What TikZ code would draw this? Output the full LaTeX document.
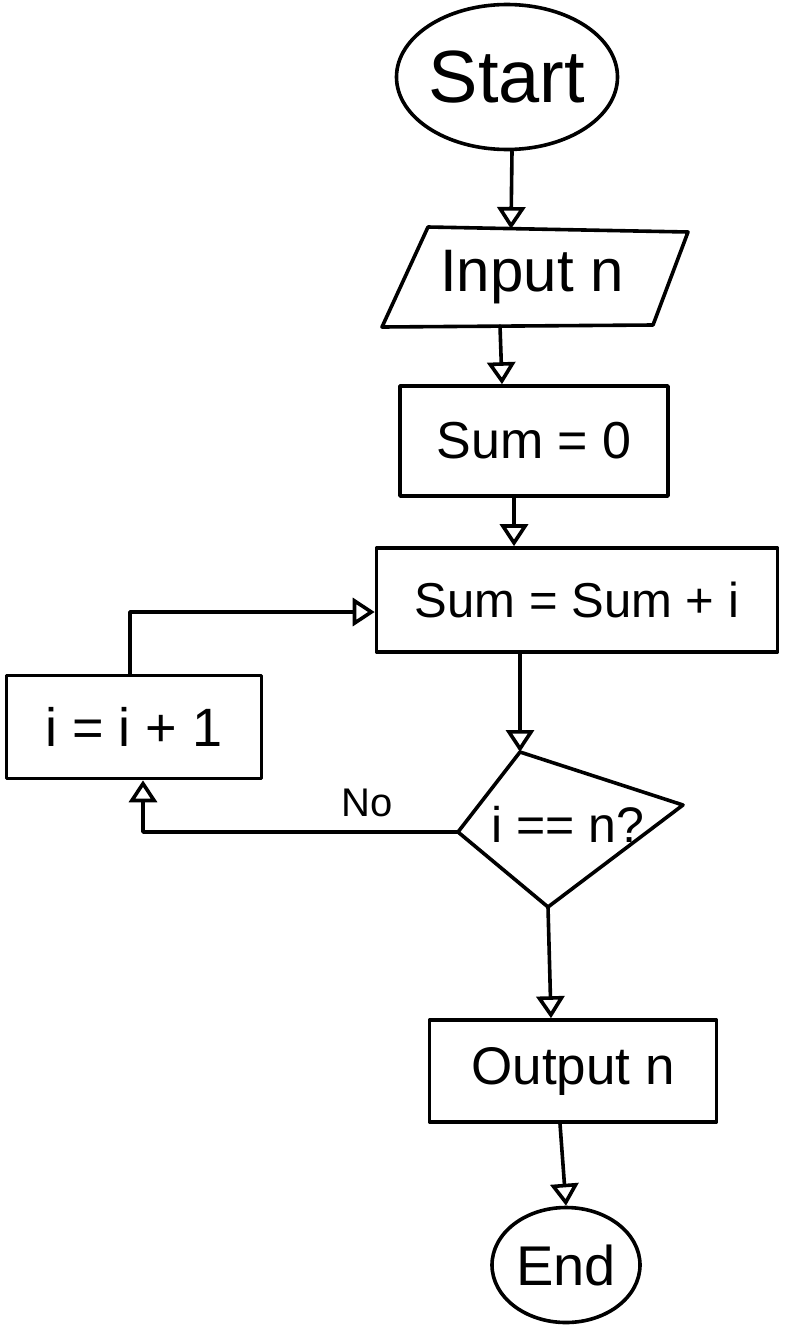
\documentclass[tikz,border=0pt]{standalone}
\usepackage{fontspec}
\setmainfont{Liberation Sans}
\usetikzlibrary{shapes.geometric,arrows.meta}

\newcommand{\fsz}[1]{\fontsize{#1}{#1}\selectfont}

\tikzset{
  ink/.style={line width=3.6pt, line cap=round, line join=round},
  flow/.style={ink, -{Triangle[open,length=22pt,width=28pt]}},
  terminal/.style={ink, draw, ellipse, inner sep=0pt},
  procbox/.style={ink, draw, rectangle, inner sep=0pt},
  label/.style={inner sep=0pt, anchor=center},
}

\begin{document}
\begin{tikzpicture}[x=1pt, y=-1pt]
  \useasboundingbox (0,0) rectangle (787,1333);
  \fill[white] (0,0) rectangle (787,1333);

  % terminals
  \node[terminal, minimum width=218pt, minimum height=145pt] (start) at (507,77) {\fsz{74}Start};
  \node[terminal, minimum width=148pt, minimum height=115pt] (end) at (566,1265) {\fsz{56}End};

  % input parallelogram
  \coordinate (inTL) at (428,227);
  \coordinate (inTR) at (688,232);
  \coordinate (inBR) at (653,325);
  \coordinate (inBL) at (382,327);
  \draw[ink] (inTL) -- (inTR) -- (inBR) -- (inBL) -- cycle;
  \node[label] (input) at (532,277) {\fsz{60}Input n};
  \coordinate (inTop) at (511,229);
  \coordinate (inBot) at (500,326);

  % process boxes
  \node[procbox, minimum width=268pt, minimum height=110pt] (sum0) at (534,441) {\fsz{52}Sum = 0};
  \node[procbox, minimum width=401pt, minimum height=104pt] (loop) at (577,600) {\fsz{49}Sum = Sum + i};
  \node[procbox, minimum width=255pt, minimum height=103pt] (inc) at (134,727) {\fsz{54}i = i + 1};
  \node[procbox, minimum width=287pt, minimum height=102pt] (output) at (573,1071) {\fsz{53}Output n};

  % decision
  \coordinate (dT) at (520,752);
  \coordinate (dR) at (683,805);
  \coordinate (dB) at (548,907);
  \coordinate (dL) at (458,832);
  \draw[ink] (dT) -- (dR) -- (dB) -- (dL) -- cycle;
  \node[label] (cond) at (568,824) {\fsz{50}i == n?};

  % connectors
  \draw[flow] ([xshift=5pt]start.south) -- (inTop);
  \draw[flow] (inBot) -- ([xshift=-32pt]sum0.north);
  \draw[flow] ([xshift=-20pt]sum0.south) -- ([xshift=-63pt]loop.north);
  \draw[flow] ([xshift=-57pt]loop.south) -- (dT);
  \draw[flow] (dL) -| ([xshift=9pt]inc.south);
  \node[label] (no) at (367,803) {\fsz{40}No};
  \draw[flow] ([xshift=-4pt]inc.north) |- ([yshift=-12pt]loop.west);
  \draw[flow] (dB) -- ([xshift=-22pt]output.north);
  \draw[flow] ([xshift=-13pt]output.south) -- (end.north);
\end{tikzpicture}
\end{document}
